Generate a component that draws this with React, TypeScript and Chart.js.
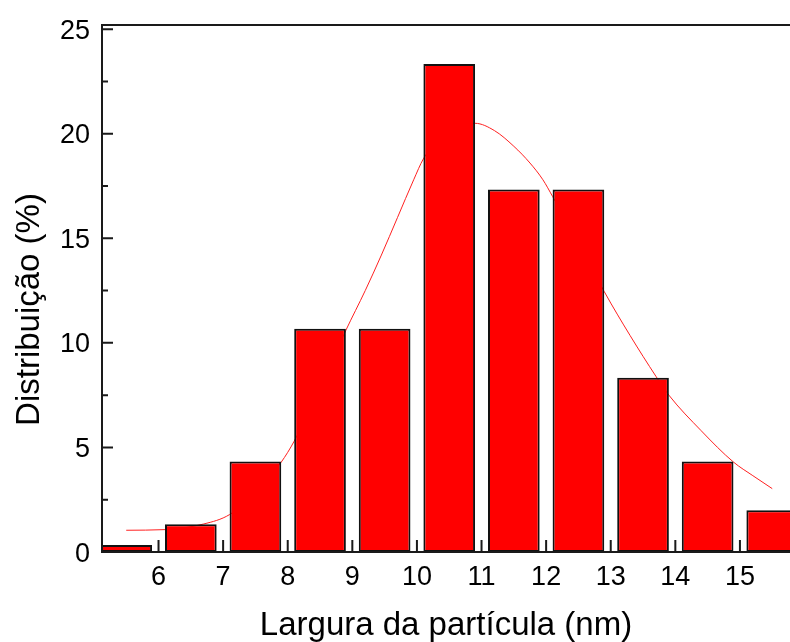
import React, { useEffect, useRef } from "react";
import { Chart, registerables } from "chart.js";

Chart.register(...registerables);

// Histogram bins (centre of each 1 nm class) and percentage in each class
const binCenters = [5.5, 6.5, 7.5, 8.5, 9.5, 10.5, 11.5, 12.5, 13.5, 14.5, 15.5];
const distribution = [0.33, 1.33, 4.33, 10.67, 10.67, 23.33, 17.33, 17.33, 8.33, 4.33, 2.0];

// Fitted distribution curve
const fitX = [5.5, 6.1, 6.7, 7.1, 7.5, 7.9, 8.1, 8.5, 8.9, 9.2, 9.45, 9.7, 9.95, 10.1, 10.3, 10.5, 10.7, 10.9, 11.2, 11.5, 11.75, 11.95, 12.1, 12.5, 12.9, 13.3, 13.7, 13.9, 14.4, 14.9, 15.2, 15.5];
const fitY = [1.04, 1.07, 1.34, 1.79, 2.85, 4.3, 5.3, 7.85, 10.6, 12.5, 14.2, 16.0, 17.8, 18.8, 19.6, 20.15, 20.45, 20.5, 20.15, 19.4, 18.6, 17.8, 17.0, 14.8, 12.45, 10.35, 8.4, 7.5, 5.8, 4.3, 3.65, 3.03];

// Axis ticks
const xTicks = [6, 7, 8, 9, 10, 11, 12, 13, 14, 15];
const yMajorTicks = [0, 5, 10, 15, 20, 25];
const yMinorTicks = [2.5, 7.5, 12.5, 17.5, 22.5];

const xTitle = "Largura da partícula (nm)";
const yTitle = "Distribuição (%)";

const X_MIN = 5.125;
const X_MAX = 15.775;
const Y_MIN = 0;
const Y_MAX = 25.2;

const FONT = "'Liberation Sans', Arial, Helvetica, sans-serif";

const axesPlugin = {
  id: "originAxes",
  afterDatasetsDraw(chart: any) {
    const { ctx, chartArea: a } = chart;
    const x = chart.scales.x;
    const y = chart.scales.y;
    ctx.save();
    ctx.strokeStyle = "#1a1a1a";
    ctx.lineWidth = 2;
    ctx.lineCap = "butt";
    // frame: top, left, bottom
    ctx.beginPath();
    ctx.moveTo(chart.width, a.top);
    ctx.lineTo(a.left, a.top);
    ctx.lineTo(a.left, a.bottom);
    ctx.lineTo(chart.width, a.bottom);
    ctx.stroke();

    // y ticks (inward)
    ctx.beginPath();
    for (const v of yMajorTicks) {
      const py = y.getPixelForValue(v);
      ctx.moveTo(a.left, py);
      ctx.lineTo(a.left + 11, py);
    }
    for (const v of yMinorTicks) {
      const py = y.getPixelForValue(v);
      ctx.moveTo(a.left, py);
      ctx.lineTo(a.left + 6, py);
    }
    // x ticks (inward)
    for (const v of xTicks) {
      const px = x.getPixelForValue(v);
      ctx.moveTo(px, a.bottom);
      ctx.lineTo(px, a.bottom - 12);
    }
    ctx.stroke();

    // tick labels
    ctx.fillStyle = "#000";
    ctx.font = `27px ${FONT}`;
    ctx.textAlign = "right";
    ctx.textBaseline = "alphabetic";
    for (const v of yMajorTicks) {
      const py = y.getPixelForValue(v);
      ctx.fillText(String(v), a.left - 12, py + 9.6);
    }
    ctx.textAlign = "center";
    for (const v of xTicks) {
      const px = x.getPixelForValue(v);
      ctx.fillText(String(v), px, a.bottom + 33);
    }

    // axis titles
    ctx.font = `33px ${FONT}`;
    ctx.textAlign = "center";
    ctx.fillText(xTitle, (a.left + a.right) / 2, a.bottom + 83);
    ctx.save();
    ctx.translate(39, (a.top + a.bottom) / 2 + 21);
    ctx.rotate(-Math.PI / 2);
    ctx.fillText(yTitle, 0, 0);
    ctx.restore();

    ctx.restore();
  },
};

export default function App() {
  const canvasRef = useRef<HTMLCanvasElement | null>(null);

  useEffect(() => {
    if (!canvasRef.current) return;
    const chart = new Chart(canvasRef.current, {
      type: "bar",
      data: {
        datasets: [
          {
            type: "bar",
            label: "Distribuição",
            data: binCenters.map((c, i) => ({ x: c, y: distribution[i] })),
            backgroundColor: "#ff0000",
            borderColor: "#111111",
            borderWidth: 2,
            borderSkipped: false,
            barPercentage: 1.0,
            categoryPercentage: 0.8,
            order: 0,
            clip: { left: 0, top: 5, right: 0, bottom: 2 },
          } as any,
          {
            type: "line",
            label: "Ajuste",
            data: fitX.map((v, i) => ({ x: v, y: fitY[i] })),
            borderColor: "#ff2020",
            borderWidth: 1,
            pointRadius: 0,
            fill: false,
            cubicInterpolationMode: "monotone",
            order: 1,
          } as any,
        ],
      },
      options: {
        animation: false,
        responsive: true,
        maintainAspectRatio: false,
        layout: { padding: { left: 102, top: 25, right: 0, bottom: 90 } },
        plugins: {
          legend: { display: false },
          tooltip: { enabled: false },
          title: { display: false },
        },
        scales: {
          x: {
            type: "linear",
            display: false,
            offset: false,
            min: X_MIN,
            max: X_MAX,
            afterBuildTicks: (scale: any) => {
              scale.ticks = xTicks.map((v) => ({ value: v }));
            },
          },
          y: {
            type: "linear",
            display: false,
            min: Y_MIN,
            max: Y_MAX,
            afterBuildTicks: (scale: any) => {
              scale.ticks = yMajorTicks.map((v) => ({ value: v }));
            },
          },
        },
      },
      plugins: [axesPlugin],
    });
    return () => chart.destroy();
  }, []);

  return (
    <div style={{ position: "absolute", left: 0, top: 0, width: 790, height: 642, background: "#fff" }}>
      <canvas ref={canvasRef} />
    </div>
  );
}
